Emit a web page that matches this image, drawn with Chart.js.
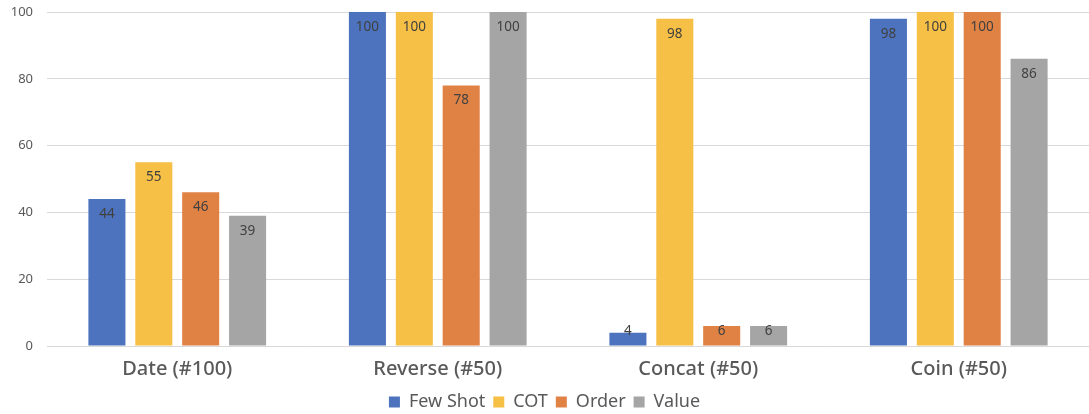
<!DOCTYPE html>
<html><head><meta charset="utf-8">
<script src="https://cdn.jsdelivr.net/npm/chart.js@4"></script>
<style>html,body{margin:0;padding:0;background:#fff}#wrap{width:1089px;height:414px}</style>
</head><body><div id="wrap"><canvas id="c"></canvas></div>
<script>
const categories = ["Date (#100)", "Reverse (#50)", "Concat (#50)", "Coin (#50)"];
const fewShot = [44, 100, 4, 98];
const cot = [55, 100, 98, 100];
const order = [46, 78, 6, 100];
const value = [39, 100, 6, 86];
const yTicks = [0, 20, 40, 60, 80, 100];

const FONT = "'Noto Sans', 'Liberation Sans', sans-serif";

const labelPlugin = {
  id: 'barLabels',
  afterDatasetsDraw(chart) {
    const ctx = chart.ctx;
    ctx.save();
    ctx.font = "13.5px " + FONT;
    ctx.fillStyle = '#404040';
    ctx.textAlign = 'center';
    ctx.textBaseline = 'middle';
    chart.data.datasets.forEach((ds, i) => {
      const meta = chart.getDatasetMeta(i);
      meta.data.forEach((bar, j) => {
        const y = Math.min(bar.y + 15, bar.base - 14);
        ctx.fillText(String(ds.data[j]), bar.x, y);
      });
    });
    ctx.restore();
  }
};

new Chart(document.getElementById('c'), {
  type: 'bar',
  data: {
    labels: categories,
    datasets: [
      { label: 'Few Shot', data: fewShot, backgroundColor: '#4D73BE' },
      { label: 'COT', data: cot, backgroundColor: '#F6BF45' },
      { label: 'Order', data: order, backgroundColor: '#E08244' },
      { label: 'Value', data: value, backgroundColor: '#A5A5A5' }
    ]
  },
  options: {
    responsive: true,
    maintainAspectRatio: false,
    animation: false,
    datasets: { bar: { categoryPercentage: 0.72, barPercentage: 0.79 } },
    layout: { padding: { top: 12, right: 0, left: 0, bottom: -7 } },
    plugins: {
      legend: {
        position: 'bottom',
        labels: { font: { family: FONT, size: 18 }, color: '#595959', boxWidth: 11, boxHeight: 11, padding: 8 }
      },
      tooltip: { enabled: false }
    },
    scales: {
      x: {
        grid: { display: false, drawTicks: false },
        border: { display: false },
        afterFit(axis) { axis.height -= 7; },
        ticks: { font: { family: FONT, size: 20, weight: '500' }, color: '#595959', padding: 11 }
      },
      y: {
        min: 0, max: 100,
        afterBuildTicks(axis) { axis.ticks = yTicks.map(v => ({ value: v })); },
        afterFit(axis) { axis.paddingTop = 4; axis.paddingBottom = 4; axis.width = 47; },
        grid: { color: '#D9D9D9', drawTicks: false },
        border: { display: false },
        ticks: { font: { family: FONT, size: 13 }, color: '#595959', padding: 14 }
      }
    }
  },
  plugins: [labelPlugin]
});
</script></body></html>
